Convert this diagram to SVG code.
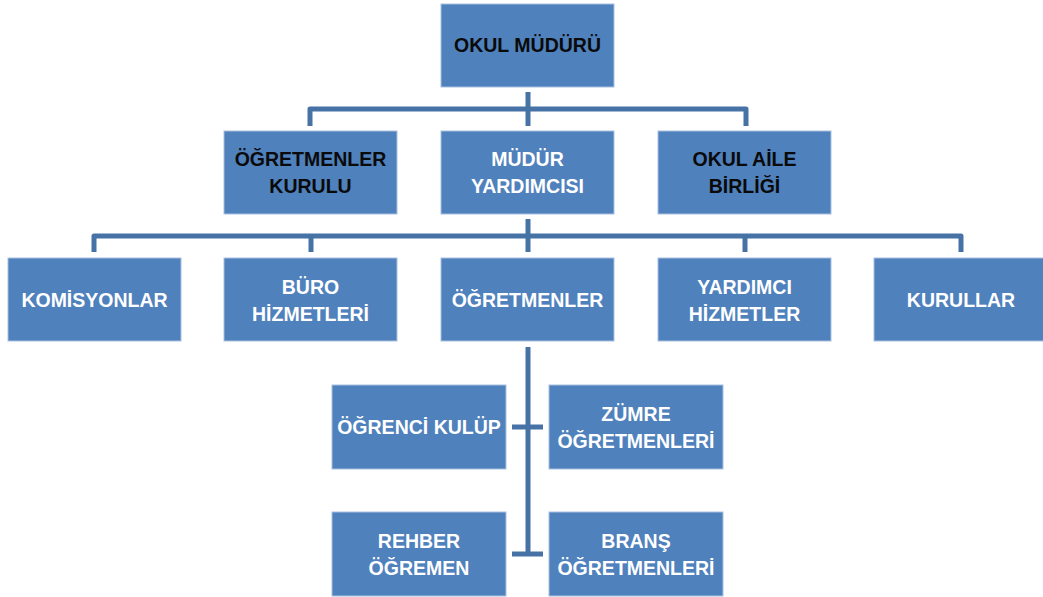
<svg xmlns="http://www.w3.org/2000/svg" width="1043" height="597" viewBox="0 0 1043 597">
<style>
.box{fill:#4F81BD;stroke:#A9C0DF;stroke-width:1}
.t{font-family:"Liberation Sans",Arial,sans-serif;font-weight:bold;font-size:19.5px;text-anchor:middle}
.w{fill:#ffffff}
.d{fill:#0a0a0a}
.c{fill:none;stroke:#4772A6;stroke-width:5;stroke-linejoin:round}
</style>
<rect width="1043" height="597" fill="#ffffff"/>
<g id="connectors">
<path class="c" d="M528,92 V126"/>
<path class="c" d="M310,126 V109 H746 V126"/>
<path class="c" d="M528,219 V252"/>
<path class="c" d="M94,252 V236 H961 V252"/>
<path class="c" d="M311,236 V252"/>
<path class="c" d="M745,236 V252"/>
<path class="c" d="M528,347 V554"/>
<path class="c" d="M512,427 H543"/>
<path class="c" d="M512,554 H543"/>
</g>
<g id="okul-muduru"><rect class="box" x="441" y="4" width="173" height="83"/><text class="t d" x="527.5" y="52">OKUL MÜDÜRÜ</text></g>
<g id="ogretmenler-kurulu"><rect class="box" x="224" y="131" width="173" height="83"/><text class="t d" x="310.5" y="166">ÖĞRETMENLER</text><text class="t d" x="310.5" y="193">KURULU</text></g>
<g id="mudur-yardimcisi"><rect class="box" x="441" y="131" width="173" height="83"/><text class="t w" x="527.5" y="166">MÜDÜR</text><text class="t w" x="527.5" y="193">YARDIMCISI</text></g>
<g id="okul-aile-birligi"><rect class="box" x="658" y="131" width="173" height="83"/><text class="t d" x="744.5" y="166">OKUL AİLE</text><text class="t d" x="744.5" y="193">BİRLİĞİ</text></g>
<g id="komisyonlar"><rect class="box" x="8" y="258" width="173" height="83"/><text class="t w" x="94.5" y="307">KOMİSYONLAR</text></g>
<g id="buro-hizmetleri"><rect class="box" x="224" y="258" width="173" height="83"/><text class="t w" x="310.5" y="294">BÜRO</text><text class="t w" x="310.5" y="321">HİZMETLERİ</text></g>
<g id="ogretmenler"><rect class="box" x="441" y="258" width="173" height="83"/><text class="t w" x="527.5" y="307">ÖĞRETMENLER</text></g>
<g id="yardimci-hizmetler"><rect class="box" x="658" y="258" width="173" height="83"/><text class="t w" x="744.5" y="294">YARDIMCI</text><text class="t w" x="744.5" y="321">HİZMETLER</text></g>
<g id="kurullar"><rect class="box" x="874" y="258" width="173" height="83"/><text class="t w" x="961" y="307">KURULLAR</text></g>
<g id="ogrenci-kulup"><rect class="box" x="332" y="385" width="174" height="84"/><text class="t w" x="419" y="434">ÖĞRENCİ KULÜP</text></g>
<g id="zumre-ogretmenleri"><rect class="box" x="549" y="385" width="174" height="84"/><text class="t w" x="636" y="421">ZÜMRE</text><text class="t w" x="636" y="448">ÖĞRETMENLERİ</text></g>
<g id="rehber-ogremen"><rect class="box" x="332" y="512" width="174" height="84"/><text class="t w" x="419" y="548">REHBER</text><text class="t w" x="419" y="575">ÖĞREMEN</text></g>
<g id="brans-ogretmenleri"><rect class="box" x="549" y="512" width="174" height="84"/><text class="t w" x="636" y="548">BRANŞ</text><text class="t w" x="636" y="575">ÖĞRETMENLERİ</text></g>
</svg>
